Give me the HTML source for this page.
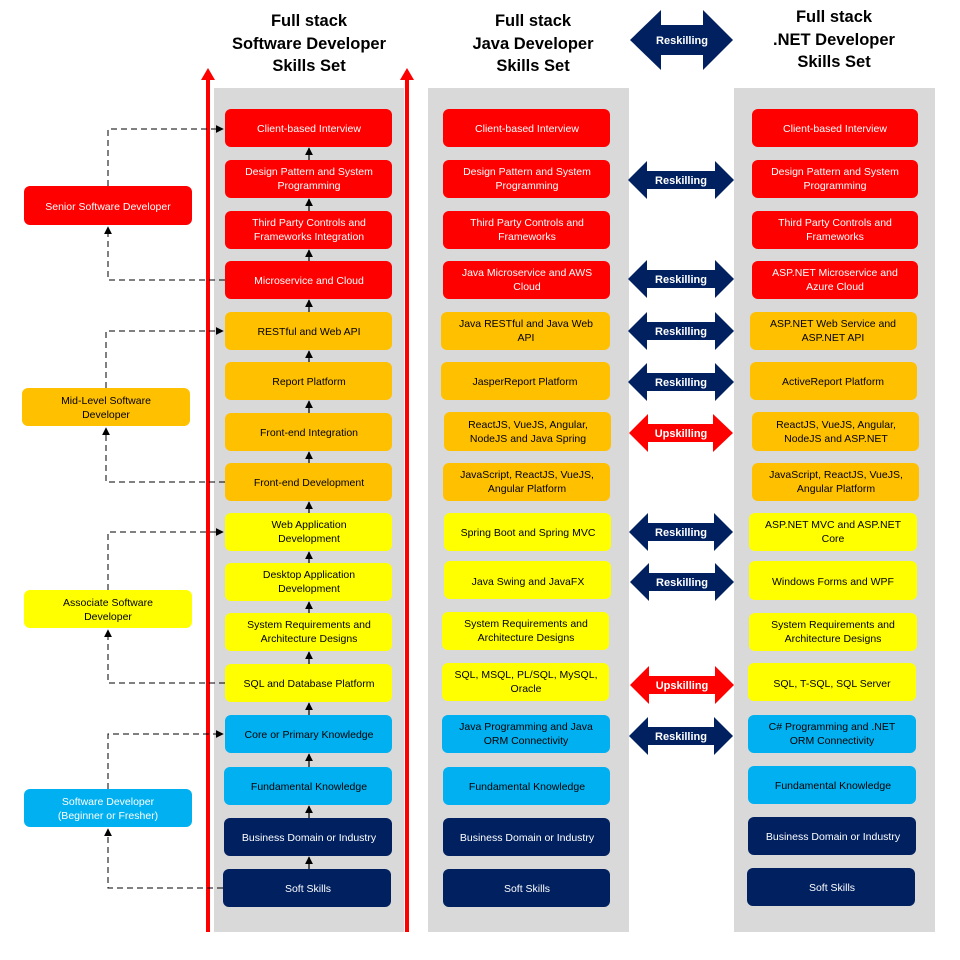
<!DOCTYPE html>
<html><head><meta charset="utf-8"><style>
html,body{margin:0;padding:0;background:#fff}
svg{display:block}
text{font-family:"Liberation Sans",sans-serif;font-size:10.5px;text-anchor:middle}
.h{font-size:16.5px;font-weight:bold;fill:#000}
.w{fill:#fff}.k{fill:#000}
.a{font-size:11px;font-weight:bold;fill:#fff}
</style></head><body>
<svg width="960" height="960" viewBox="0 0 960 960" xmlns="http://www.w3.org/2000/svg">
<defs>
<marker id="m" viewBox="0 0 10 10" refX="9" refY="5" markerWidth="8" markerHeight="8" orient="auto" markerUnits="userSpaceOnUse"><path d="M0,0 L10,5 L0,10 z" fill="#000"/></marker>
</defs>
<!-- panels -->
<rect x="214" y="88" width="190" height="844" fill="#d9d9d9"/>
<rect x="428" y="88" width="201" height="844" fill="#d9d9d9"/>
<rect x="734" y="88" width="201" height="844" fill="#d9d9d9"/>
<!-- red lines -->
<rect x="206" y="78" width="4" height="854" fill="#f00"/>
<polygon points="201,80 208,68 215,80" fill="#f00"/>
<rect x="405" y="78" width="4" height="854" fill="#f00"/>
<polygon points="400,80 407,68 414,80" fill="#f00"/>
<!-- headings -->
<text class="h" x="309" y="26">Full stack</text>
<text class="h" x="309" y="49">Software Developer</text>
<text class="h" x="309" y="71">Skills Set</text>
<text class="h" x="533" y="26">Full stack</text>
<text class="h" x="533" y="49">Java Developer</text>
<text class="h" x="533" y="71">Skills Set</text>
<text class="h" x="834" y="22">Full stack</text>
<text class="h" x="834" y="45">.NET Developer</text>
<text class="h" x="834" y="67">Skills Set</text>
<polygon points="630,40 661,10 661,25 703,25 703,10 733,40 703,70 703,55 661,55 661,70" fill="#002060"/>
<text class="a" x="682" y="44">Reskilling</text>

<!-- col1 boxes -->
<g>
<rect x="225" y="109" width="167" height="38" rx="6" fill="#f00"/><text class="w" x="309" y="132">Client-based Interview</text>
<rect x="225" y="160" width="167" height="38" rx="6" fill="#f00"/><text class="w" x="309" y="175">Design Pattern and System</text><text class="w" x="309" y="189">Programming</text>
<rect x="225" y="211" width="167" height="38" rx="6" fill="#f00"/><text class="w" x="309" y="226">Third Party Controls and</text><text class="w" x="309" y="240">Frameworks Integration</text>
<rect x="225" y="261" width="167" height="38" rx="6" fill="#f00"/><text class="w" x="309" y="284">Microservice and Cloud</text>
<rect x="225" y="312" width="167" height="38" rx="6" fill="#ffc000"/><text class="k" x="309" y="335">RESTful and Web API</text>
<rect x="225" y="362" width="167" height="38" rx="6" fill="#ffc000"/><text class="k" x="309" y="385">Report Platform</text>
<rect x="225" y="413" width="167" height="38" rx="6" fill="#ffc000"/><text class="k" x="309" y="436">Front-end Integration</text>
<rect x="225" y="463" width="167" height="38" rx="6" fill="#ffc000"/><text class="k" x="309" y="486">Front-end Development</text>
<rect x="225" y="513" width="167" height="38" rx="6" fill="#ff0"/><text class="k" x="309" y="528">Web Application</text><text class="k" x="309" y="542">Development</text>
<rect x="225" y="563" width="167" height="38" rx="6" fill="#ff0"/><text class="k" x="309" y="578">Desktop Application</text><text class="k" x="309" y="592">Development</text>
<rect x="225" y="613" width="167" height="38" rx="6" fill="#ff0"/><text class="k" x="309" y="628">System Requirements and</text><text class="k" x="309" y="642">Architecture Designs</text>
<rect x="225" y="664" width="167" height="38" rx="6" fill="#ff0"/><text class="k" x="309" y="687">SQL and Database Platform</text>
<rect x="225" y="715" width="167" height="38" rx="6" fill="#00b0f0"/><text class="k" x="309" y="738">Core or Primary Knowledge</text>
<rect x="224" y="767" width="168" height="38" rx="6" fill="#00b0f0"/><text class="k" x="309" y="790">Fundamental Knowledge</text>
<rect x="224" y="818" width="168" height="38" rx="6" fill="#002060"/><text class="w" x="309" y="841">Business Domain or Industry</text>
<rect x="223" y="869" width="168" height="38" rx="6" fill="#002060"/><text class="w" x="308" y="892">Soft Skills</text>
</g>
<!-- col1 up arrows -->
<g stroke="#000" stroke-width="1.2" marker-end="url(#m)">
<line x1="309" y1="160" x2="309" y2="148"/>
<line x1="309" y1="211" x2="309" y2="199"/>
<line x1="309" y1="261" x2="309" y2="250"/>
<line x1="309" y1="312" x2="309" y2="300"/>
<line x1="309" y1="362" x2="309" y2="351"/>
<line x1="309" y1="413" x2="309" y2="401"/>
<line x1="309" y1="463" x2="309" y2="452"/>
<line x1="309" y1="513" x2="309" y2="502"/>
<line x1="309" y1="563" x2="309" y2="552"/>
<line x1="309" y1="613" x2="309" y2="602"/>
<line x1="309" y1="664" x2="309" y2="652"/>
<line x1="309" y1="715" x2="309" y2="703"/>
<line x1="309" y1="767" x2="309" y2="754"/>
<line x1="309" y1="818" x2="309" y2="806"/>
<line x1="309" y1="869" x2="309" y2="857"/>
</g>

<!-- col2 -->
<g>
<rect x="443" y="109" width="167" height="38" rx="6" fill="#f00"/><text class="w" x="527" y="132">Client-based Interview</text>
<rect x="443" y="160" width="167" height="38" rx="6" fill="#f00"/><text class="w" x="527" y="175">Design Pattern and System</text><text class="w" x="527" y="189">Programming</text>
<rect x="443" y="211" width="167" height="38" rx="6" fill="#f00"/><text class="w" x="527" y="226">Third Party Controls and</text><text class="w" x="527" y="240">Frameworks</text>
<rect x="443" y="261" width="167" height="38" rx="6" fill="#f00"/><text class="w" x="527" y="276">Java Microservice and AWS</text><text class="w" x="527" y="290">Cloud</text>
<rect x="441" y="312" width="169" height="38" rx="6" fill="#ffc000"/><text class="k" x="526" y="327">Java RESTful and Java Web</text><text class="k" x="526" y="341">API</text>
<rect x="441" y="362" width="169" height="38" rx="6" fill="#ffc000"/><text class="k" x="525" y="385">JasperReport Platform</text>
<rect x="444" y="412" width="167" height="39" rx="6" fill="#ffc000"/><text class="k" x="528" y="428">ReactJS, VueJS, Angular,</text><text class="k" x="528" y="442">NodeJS and Java Spring</text>
<rect x="443" y="463" width="167" height="38" rx="6" fill="#ffc000"/><text class="k" x="527" y="478">JavaScript, ReactJS, VueJS,</text><text class="k" x="527" y="492">Angular Platform</text>
<rect x="444" y="513" width="167" height="38" rx="6" fill="#ff0"/><text class="k" x="528" y="536">Spring Boot and Spring MVC</text>
<rect x="444" y="561" width="167" height="38" rx="6" fill="#ff0"/><text class="k" x="528" y="585">Java Swing and JavaFX</text>
<rect x="442" y="612" width="167" height="38" rx="6" fill="#ff0"/><text class="k" x="526" y="627">System Requirements and</text><text class="k" x="526" y="641">Architecture Designs</text>
<rect x="442" y="663" width="167" height="38" rx="6" fill="#ff0"/><text class="k" x="526" y="678">SQL, MSQL, PL/SQL, MySQL,</text><text class="k" x="526" y="692">Oracle</text>
<rect x="442" y="715" width="168" height="38" rx="6" fill="#00b0f0"/><text class="k" x="526" y="730">Java Programming and Java</text><text class="k" x="526" y="744">ORM Connectivity</text>
<rect x="443" y="767" width="167" height="38" rx="6" fill="#00b0f0"/><text class="k" x="527" y="790">Fundamental Knowledge</text>
<rect x="443" y="818" width="167" height="38" rx="6" fill="#002060"/><text class="w" x="527" y="841">Business Domain or Industry</text>
<rect x="443" y="869" width="167" height="38" rx="6" fill="#002060"/><text class="w" x="527" y="892">Soft Skills</text>
</g>

<!-- col3 -->
<g>
<rect x="752" y="109" width="166" height="38" rx="6" fill="#f00"/><text class="w" x="835" y="132">Client-based Interview</text>
<rect x="752" y="160" width="166" height="38" rx="6" fill="#f00"/><text class="w" x="835" y="175">Design Pattern and System</text><text class="w" x="835" y="189">Programming</text>
<rect x="752" y="211" width="166" height="38" rx="6" fill="#f00"/><text class="w" x="835" y="226">Third Party Controls and</text><text class="w" x="835" y="240">Frameworks</text>
<rect x="752" y="261" width="166" height="38" rx="6" fill="#f00"/><text class="w" x="835" y="276">ASP.NET Microservice and</text><text class="w" x="835" y="290">Azure Cloud</text>
<rect x="750" y="312" width="167" height="38" rx="6" fill="#ffc000"/><text class="k" x="833" y="327">ASP.NET Web Service and</text><text class="k" x="833" y="341">ASP.NET API</text>
<rect x="750" y="362" width="167" height="38" rx="6" fill="#ffc000"/><text class="k" x="833" y="385">ActiveReport Platform</text>
<rect x="752" y="412" width="167" height="39" rx="6" fill="#ffc000"/><text class="k" x="836" y="428">ReactJS, VueJS, Angular,</text><text class="k" x="836" y="442">NodeJS and ASP.NET</text>
<rect x="752" y="463" width="167" height="38" rx="6" fill="#ffc000"/><text class="k" x="836" y="478">JavaScript, ReactJS, VueJS,</text><text class="k" x="836" y="492">Angular Platform</text>
<rect x="749" y="513" width="168" height="38" rx="6" fill="#ff0"/><text class="k" x="833" y="528">ASP.NET MVC  and ASP.NET</text><text class="k" x="833" y="542">Core</text>
<rect x="749" y="561" width="168" height="39" rx="6" fill="#ff0"/><text class="k" x="833" y="585">Windows Forms and WPF</text>
<rect x="749" y="613" width="168" height="38" rx="6" fill="#ff0"/><text class="k" x="833" y="628">System Requirements and</text><text class="k" x="833" y="642">Architecture Designs</text>
<rect x="748" y="663" width="168" height="38" rx="6" fill="#ff0"/><text class="k" x="832" y="687">SQL, T-SQL, SQL Server</text>
<rect x="748" y="715" width="168" height="38" rx="6" fill="#00b0f0"/><text class="k" x="832" y="730">C# Programming and .NET</text><text class="k" x="832" y="744">ORM Connectivity</text>
<rect x="748" y="766" width="168" height="38" rx="6" fill="#00b0f0"/><text class="k" x="833" y="789">Fundamental Knowledge</text>
<rect x="748" y="817" width="168" height="38" rx="6" fill="#002060"/><text class="w" x="833" y="840">Business Domain or Industry</text>
<rect x="747" y="868" width="168" height="38" rx="6" fill="#002060"/><text class="w" x="832" y="891">Soft Skills</text>
</g>

<!-- double arrows -->
<g>
<polygon points="628,180 647,161 647,171 715,171 715,161 734,180 715,199 715,189 647,189 647,199" fill="#002060"/><text class="a" x="681" y="184">Reskilling</text>
<polygon points="628,279 647,260 647,270 715,270 715,260 734,279 715,298 715,288 647,288 647,298" fill="#002060"/><text class="a" x="681" y="283">Reskilling</text>
<polygon points="628,331 647,312 647,322 715,322 715,312 734,331 715,350 715,340 647,340 647,350" fill="#002060"/><text class="a" x="681" y="335">Reskilling</text>
<polygon points="628,382 647,363 647,373 715,373 715,363 734,382 715,401 715,391 647,391 647,401" fill="#002060"/><text class="a" x="681" y="386">Reskilling</text>
<polygon points="629,433 648,414 648,424 713,424 713,414 733,433 713,452 713,442 648,442 648,452" fill="#f00"/><text class="a" x="681" y="437">Upskilling</text>
<polygon points="629,532 648,513 648,523 714,523 714,513 733,532 714,551 714,541 648,541 648,551" fill="#002060"/><text class="a" x="681" y="536">Reskilling</text>
<polygon points="630,582 649,563 649,573 715,573 715,563 734,582 715,601 715,591 649,591 649,601" fill="#002060"/><text class="a" x="682" y="586">Reskilling</text>
<polygon points="630,685 649,666 649,676 715,676 715,666 734,685 715,704 715,694 649,694 649,704" fill="#f00"/><text class="a" x="682" y="689">Upskilling</text>
<polygon points="629,736 648,717 648,727 714,727 714,717 733,736 714,755 714,745 648,745 648,755" fill="#002060"/><text class="a" x="681" y="740">Reskilling</text>
</g>

<!-- left role boxes -->
<rect x="24" y="186" width="168" height="39" rx="6" fill="#f00"/><text class="w" x="108" y="210">Senior Software Developer</text>
<rect x="22" y="388" width="168" height="38" rx="6" fill="#ffc000"/><text class="k" x="106" y="404">Mid-Level Software</text><text class="k" x="106" y="418">Developer</text>
<rect x="24" y="590" width="168" height="38" rx="6" fill="#ff0"/><text class="k" x="108" y="606">Associate Software</text><text class="k" x="108" y="620">Developer</text>
<rect x="24" y="789" width="168" height="38" rx="6" fill="#00b0f0"/><text class="w" x="108" y="805">Software Developer</text><text class="w" x="108" y="819">(Beginner or Fresher)</text>

<!-- dashed connectors -->
<g fill="none" stroke="#000" stroke-width="1" stroke-dasharray="6,4">
<polyline points="108,186 108,129 223,129" marker-end="url(#m)"/>
<polyline points="225,280 108,280 108,227" marker-end="url(#m)"/>
<polyline points="106,388 106,331 223,331" marker-end="url(#m)"/>
<polyline points="225,482 106,482 106,428" marker-end="url(#m)"/>
<polyline points="108,590 108,532 223,532" marker-end="url(#m)"/>
<polyline points="225,683 108,683 108,630" marker-end="url(#m)"/>
<polyline points="108,789 108,734 223,734" marker-end="url(#m)"/>
<polyline points="223,888 108,888 108,829" marker-end="url(#m)"/>
</g>
</svg>
</body></html>
